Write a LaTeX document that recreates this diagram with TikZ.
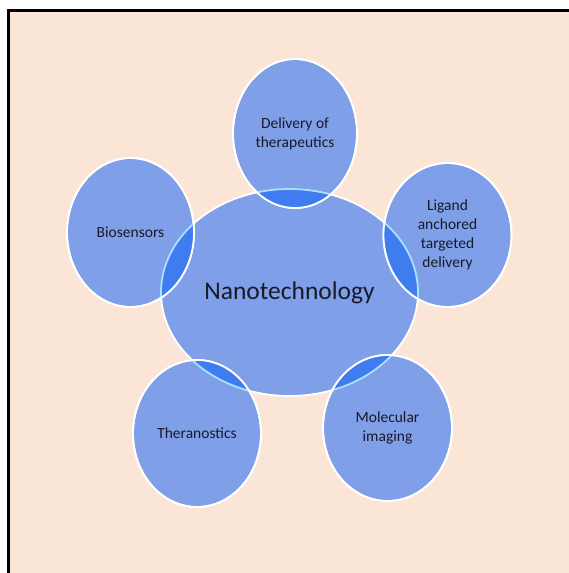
\documentclass[tikz,border=0pt]{standalone}
\usepackage{fontspec}
\setmainfont{Carlito}
\usetikzlibrary{shapes.geometric}

\definecolor{page}{HTML}{FBE5D6}
\definecolor{bubblefill}{RGB}{127,160,232}
\definecolor{lensfill}{RGB}{62,124,240}
\definecolor{lensedge}{RGB}{170,225,255}
\definecolor{labeltext}{RGB}{25,25,40}

% darker overlap of a satellite (#1, radii #2/#3) with the hub
\newcommand\lensover[3]{%
  \begin{scope}
    \clip (#1.center) ellipse [x radius=#2pt, y radius=#3pt];
    \fill[lensfill] (nano.center) ellipse [x radius=128.5pt, y radius=103.5pt];
    \draw[lensedge, outline] (nano.center) ellipse [x radius=128.5pt, y radius=103.5pt];
  \end{scope}
  \draw[white, outline] (#1.center) ellipse [x radius=#2pt, y radius=#3pt];
}

\begin{document}
\begin{tikzpicture}[x=1pt, y=-1pt,
  outline/.style={line width=1.8pt},
  bubble/.style={ellipse, fill=bubblefill, draw=white, outline, inner sep=0pt,
    text=labeltext, align=center, font=\fontsize{15.5}{19}\selectfont},
  hub/.style={bubble, font=\fontsize{25.5}{30}\selectfont}]

\useasboundingbox (0,0) rectangle (569,573);
\fill[white] (0,0) rectangle (569,573);
\fill[page] (8.8,10.8) rectangle (580,590);
\draw[black, line width=3pt] (8.8,590) -- (8.8,10.8) -- (580,10.8);

% central hub
\node[hub, minimum width=257pt, minimum height=207pt] (nano) at (289.5,292.5) {Nanotechnology};

% satellites
\node[bubble, minimum width=124pt, minimum height=149pt] (deliv) at (295,133.5) {Delivery of\\therapeutics};
\node[bubble, minimum width=128pt, minimum height=144pt] (ligand) at (447.5,235) {Ligand\\anchored\\targeted\\delivery};
\node[bubble, minimum width=127pt, minimum height=149pt] (bio) at (130.5,232.5) {Biosensors};
\node[bubble, minimum width=128pt, minimum height=147pt] (thera) at (197,433.5) {Theranostics};
\node[bubble, minimum width=129pt, minimum height=146pt] (mol) at (387.5,428) {Molecular\\imaging};

% overlaps with the hub
\lensover{deliv}{62}{74.5}
\lensover{ligand}{64}{72}
\lensover{bio}{63.5}{74.5}
\lensover{thera}{64}{73.5}
\lensover{mol}{64.5}{73}

\end{tikzpicture}
\end{document}
